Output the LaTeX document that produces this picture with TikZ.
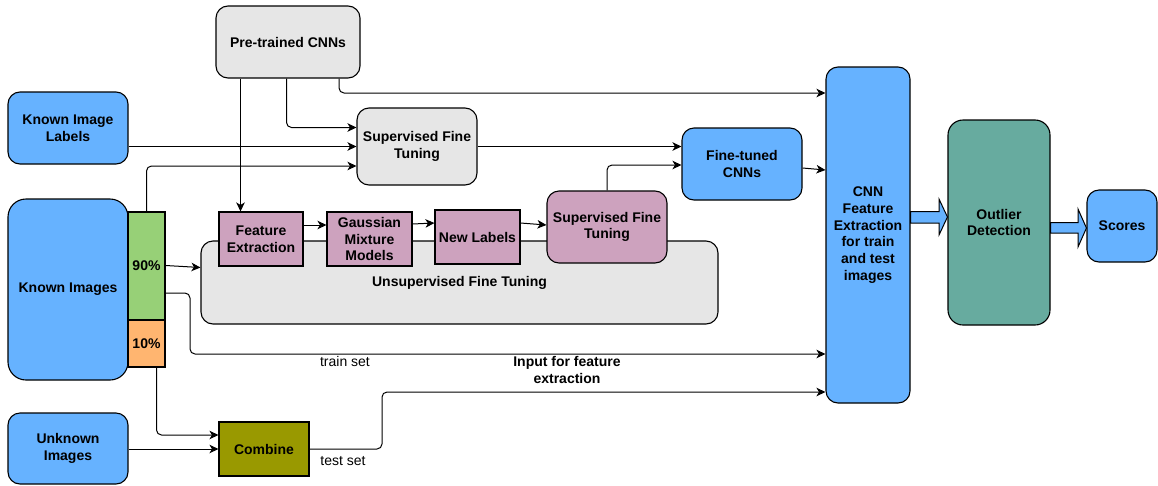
\documentclass[tikz,border=0pt]{standalone}
\usepackage{fontspec}
\setmainfont{Liberation Sans}
\usetikzlibrary{arrows.meta}

\definecolor{cblue}{HTML}{66B2FF}
\definecolor{cgray}{HTML}{E6E6E6}
\definecolor{cpurple}{HTML}{CDA2BE}
\definecolor{cgreen}{HTML}{97D077}
\definecolor{corange}{HTML}{FFB570}
\definecolor{cteal}{HTML}{67AB9F}
\definecolor{colive}{HTML}{999900}

\tikzset{
  txt/.style={font=\fontsize{14}{16.8}\selectfont, inner sep=0pt, align=center},
  blk/.style={draw=black, line width=1.1pt, align=center, inner sep=0pt,
              font=\bfseries\fontsize{14}{16.8}\selectfont},
  rbox/.style={blk, rounded corners=12pt},
  sbox/.style={blk},
  conn/.style={draw, line width=1pt, rounded corners=5pt,
               -{Stealth[length=9pt,width=8.5pt,inset=2.5pt]}},
  fatarrow/.style={fill=cblue, draw=black, line width=1pt, line join=miter},
}

% box by its corners: style, name, x1, y1, x2, y2, text
\newcommand{\bx}[7]{\node[#1, minimum width={(#5-#3)*1pt}, minimum height={(#6-#4)*1pt}]
  (#2) at ({(#3+#5)/2},{(#4+#6)/2}) {#7};}

\begin{document}
\begin{tikzpicture}[x=1pt, y=-1pt]
\useasboundingbox (0,0) rectangle (1158,485);

% inputs
\bx{rbox, fill=cgray}{pre}{216}{6}{360}{78}{Pre-trained CNNs}
\bx{rbox, fill=cblue}{kil}{8}{92}{128}{164}{Known Image\\Labels}
\bx{blk, rounded corners=18pt, fill=cblue}{ki}{8}{199}{128}{380}{Known Images}
\bx{sbox, fill=cgreen}{p90}{128}{212}{165}{320}{90\%}
\bx{sbox, fill=corange}{p10}{128}{320}{165}{367}{10\%}
\bx{rbox, fill=cblue}{un}{8}{413}{128}{484}{Unknown\\Images}
\bx{sbox, fill=colive}{cmb}{219}{422}{309}{476}{Combine}

% fine tuning
\bx{rbox, fill=cgray}{sft}{357}{108}{477}{185}{Supervised Fine\\Tuning}
\bx{rbox, fill=cgray}{unsup}{201}{241}{718}{324}{}
\node[txt, font=\bfseries\fontsize{14}{16.8}\selectfont] (unsuptxt) at (459.5,283) {Unsupervised Fine Tuning};
\bx{sbox, fill=cpurple}{fe}{219}{212}{303}{266}{Feature\\Extraction}
\bx{sbox, fill=cpurple}{gmm}{327}{212}{412}{266}{Gaussian\\Mixture\\Models}
\bx{sbox, fill=cpurple}{nl}{435}{210}{520}{264}{New Labels}
\bx{rbox, fill=cpurple}{psft}{547}{191}{667}{263}{Supervised Fine\\Tuning}
\bx{rbox, fill=cblue}{ft}{682}{128}{802}{200}{Fine-tuned\\CNNs}

% feature extraction and detection
\bx{rbox, fill=cblue}{cnn}{826}{67}{910}{403}{CNN\\Feature\\Extraction\\for train\\and test\\images}
\bx{rbox, rounded corners=15pt, fill=cteal}{out}{948}{120}{1050}{325}{Outlier\\Detection}
\bx{rbox, fill=cblue}{sc}{1087}{190}{1157}{262}{Scores}

% connectors from the pre-trained networks
\draw[conn] (pre.south -| 240.5,0) -- (fe.north -| 240.5,0);
\draw[conn] (pre.south -| 286.5,0) |- (sft.west |- 0,127.5);
\draw[conn] (pre.south -| 339,0) |- (cnn.west |- 0,93);

% supervised branch
\draw[conn] (kil.east |- 0,146.5) -- (sft.west |- 0,146.5);
\draw[conn] (p90.north) |- (sft.west |- 0,166);
\draw[conn] (sft.east) -- (ft.west |- sft.east);

% unsupervised branch
\draw[conn] (p90.east |- 0,265.5) -- (unsup.west |- 0,267.5);
\draw[conn] (fe.east |- 0,225) -- (gmm.west |- 0,225);
\draw[conn] (gmm.east |- 0,224) -- (nl.west |- 0,223);
\draw[conn] (nl.east |- 0,223) -- (psft.west |- 0,225);
\draw[conn] (psft.north) |- (ft.west |- 0,165);
\draw[conn] (ft.east |- 0,168) -- (cnn.west |- 0,170);

% train and test sets
\coordinate (tr1) at (190,293);
\coordinate (tr2) at (190,354);
\draw[conn] (p90.east |- tr1) -- (tr1) -- (tr2) -- (cnn.west |- tr2);
\node[txt] (trainlbl) at (345,361) {train set};

\draw[conn] (p10.south -| 156.5,0) |- (cmb.west |- 0,435);
\draw[conn] (un.east |- cmb.west) -- (cmb.west);

\coordinate (ts1) at (382,449);
\coordinate (ts2) at (382,392);
\draw[conn] (cmb.east) -- (ts1) -- (ts2) -- (cnn.west |- ts2);
\node[txt] (testlbl) at (343,461) {test set};
\node[txt, font=\bfseries\fontsize{14}{16.8}\selectfont] (inputlbl) at (567,370) {Input for feature\\extraction};

% block arrows
\draw[fatarrow] (cnn.east |- 0,211.5) -- (939,211.5) -- (939,199) -- (out.west |- 0,217)
  -- (939,235) -- (939,223) -- (cnn.east |- 0,223) -- cycle;
\draw[fatarrow] (out.east |- 0,222.5) -- (1078,222.5) -- (1078,209) -- (sc.west |- 0,228)
  -- (1078,247) -- (1078,233) -- (out.east |- 0,233) -- cycle;
\end{tikzpicture}
\end{document}
